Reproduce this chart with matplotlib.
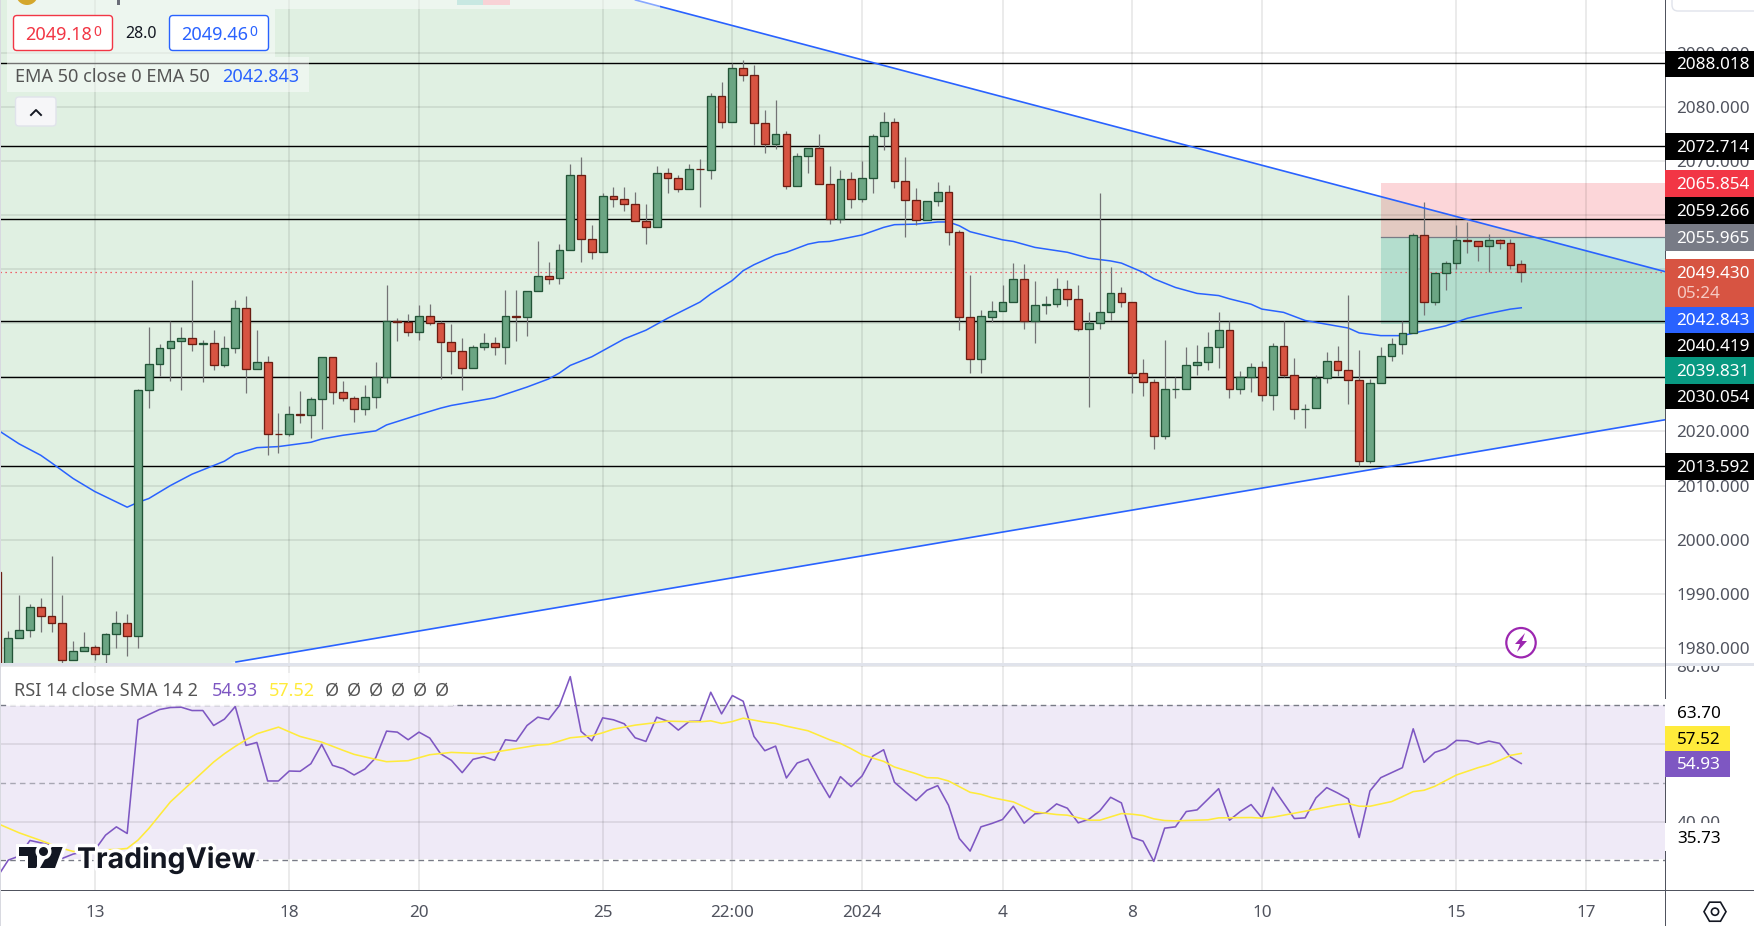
import matplotlib
matplotlib.use("Agg")
import matplotlib.pyplot as plt
import matplotlib.patheffects as pe
from matplotlib.lines import Line2D
from matplotlib.patches import Circle, FancyBboxPatch, Polygon, Rectangle, RegularPolygon
from matplotlib.transforms import Affine2D
import numpy as np

plt.rcParams['font.family'] = ['Noto Sans', 'DejaVu Sans']

W, H = 1754, 926

# candles, one per bar, bar -1 is the half hidden one at the left edge
bars = np.arange(-1, 141)
bar_open = [1994.0,
    1976.6, 1981.8, 1983.3, 1987.6, 1985.9, 1984.6, 1977.8, 1979.4, 1980.2, 1978.9,
    1982.6, 1984.6, 1982.2, 2027.6, 2032.4, 2035.4, 2036.7, 2037.2, 2036.2, 2036.3,
    2032.2, 2035.4, 2042.8, 2031.5, 2032.8, 2019.6, 2019.5, 2023.2, 2023.0, 2026.0,
    2033.7, 2027.3, 2026.2, 2024.1, 2026.3, 2030.0, 2040.4, 2040.2, 2038.3, 2041.3,
    2040.0, 2036.5, 2034.8, 2031.7, 2035.6, 2036.3, 2035.6, 2041.3, 2041.1, 2045.9,
    2048.7, 2048.3, 2053.5, 2067.3, 2055.5, 2053.1, 2063.5, 2062.9, 2062.0, 2058.8,
    2057.7, 2067.7, 2066.8, 2064.7, 2068.5, 2068.3, 2081.9, 2077.1, 2087.1, 2085.8,
    2076.9, 2073.1, 2074.9, 2065.3, 2070.8, 2072.3, 2065.7, 2059.2, 2066.6, 2062.9,
    2066.8, 2074.5, 2077.1, 2066.2, 2062.7, 2059.0, 2062.5, 2064.2, 2056.8, 2041.1,
    2033.4, 2041.2, 2042.2, 2043.9, 2048.1, 2040.4, 2043.4, 2043.5, 2046.3, 2044.4,
    2038.9, 2040.0, 2042.0, 2045.5, 2043.9, 2030.8, 2029.1, 2019.1, 2027.8, 2027.9,
    2032.2, 2032.8, 2035.6, 2038.7, 2027.8, 2030.0, 2031.9, 2026.7, 2035.8, 2030.4,
    2024.1, 2024.3, 2029.8, 2033.0, 2031.3, 2029.5, 2014.5, 2028.9, 2033.9, 2036.1,
    2038.2, 2056.3, 2044.0, 2049.2, 2051.1, 2055.3, 2055.1, 2054.2, 2055.3, 2054.8,
    2050.9]
bar_high = [1994.0,
    1983.2, 1989.8, 1988.2, 1989.3, 1996.9, 1989.8, 1981.2, 1983.0, 1980.5, 1982.8,
    1986.9, 1986.3, 2027.8, 2039.3, 2036.1, 2040.4, 2039.3, 2048.0, 2036.9, 2038.8,
    2037.7, 2044.3, 2045.1, 2038.8, 2034.0, 2023.4, 2024.7, 2027.5, 2026.3, 2033.7,
    2033.7, 2029.4, 2026.6, 2028.6, 2032.9, 2047.1, 2041.0, 2041.7, 2043.4, 2043.6,
    2040.4, 2039.9, 2037.3, 2036.0, 2038.2, 2037.5, 2046.2, 2046.2, 2045.9, 2055.2,
    2051.3, 2054.7, 2069.4, 2070.7, 2058.2, 2064.0, 2065.2, 2065.2, 2064.3, 2062.0,
    2069.1, 2068.7, 2067.4, 2069.4, 2070.3, 2082.5, 2084.6, 2088.0, 2088.6, 2087.7,
    2079.4, 2081.2, 2075.5, 2071.5, 2072.3, 2075.0, 2069.1, 2068.3, 2067.9, 2070.0,
    2075.0, 2079.0, 2077.9, 2070.7, 2065.0, 2062.5, 2066.1, 2065.6, 2057.2, 2048.9,
    2042.5, 2044.1, 2047.1, 2051.1, 2051.0, 2047.8, 2045.1, 2048.4, 2048.0, 2047.1,
    2042.1, 2064.1, 2050.4, 2046.7, 2043.9, 2033.4, 2029.7, 2036.9, 2030.0, 2035.6,
    2036.0, 2038.4, 2042.1, 2040.4, 2031.2, 2032.7, 2033.0, 2036.3, 2040.4, 2033.6,
    2025.1, 2030.5, 2034.7, 2035.8, 2045.2, 2035.1, 2029.7, 2035.6, 2037.3, 2040.4,
    2056.6, 2062.4, 2049.2, 2051.5, 2058.2, 2058.7, 2055.2, 2056.5, 2055.5, 2055.6,
    2051.7]
bar_low = [1974.0,
    1976.0, 1981.8, 1982.1, 1982.9, 1982.9, 1977.3, 1977.8, 1979.4, 1977.8, 1977.2,
    1979.9, 1978.6, 1979.9, 2024.4, 2030.3, 2029.4, 2027.7, 2034.9, 2029.2, 2031.4,
    2031.9, 2034.5, 2027.1, 2031.5, 2015.7, 2016.1, 2019.2, 2021.6, 2018.8, 2020.5,
    2025.1, 2025.7, 2021.8, 2023.1, 2024.4, 2029.0, 2036.7, 2037.7, 2036.9, 2039.7,
    2029.7, 2030.7, 2027.6, 2031.7, 2035.1, 2034.2, 2032.5, 2036.7, 2037.7, 2045.9,
    2047.3, 2047.3, 2053.5, 2051.3, 2051.9, 2053.1, 2061.5, 2060.7, 2058.8, 2054.7,
    2057.7, 2064.1, 2064.3, 2064.7, 2061.5, 2066.7, 2076.1, 2077.1, 2084.8, 2072.9,
    2071.5, 2072.2, 2064.8, 2065.3, 2067.8, 2065.7, 2058.3, 2058.5, 2061.3, 2062.4,
    2064.1, 2072.0, 2065.0, 2056.0, 2058.2, 2059.0, 2061.7, 2054.5, 2038.8, 2030.8,
    2030.8, 2040.2, 2042.2, 2043.9, 2039.0, 2036.4, 2041.7, 2043.0, 2043.2, 2038.6,
    2024.6, 2039.0, 2040.6, 2043.0, 2027.1, 2026.6, 2016.8, 2018.6, 2026.2, 2027.9,
    2030.5, 2031.4, 2031.8, 2026.2, 2027.0, 2027.3, 2025.7, 2024.0, 2030.0, 2022.3,
    2020.7, 2024.3, 2028.9, 2030.3, 2025.1, 2013.6, 2014.1, 2028.9, 2033.0, 2034.3,
    2038.2, 2041.5, 2043.3, 2046.1, 2050.0, 2053.0, 2051.5, 2049.4, 2053.7, 2050.0,
    2047.6]
bar_close = [1975.0,
    1981.8, 1983.3, 1987.6, 1985.9, 1984.6, 1977.8, 1979.4, 1980.2, 1978.9, 1982.6,
    1984.6, 1982.2, 2027.6, 2032.4, 2035.4, 2036.7, 2037.2, 2036.1, 2036.3, 2032.2,
    2035.4, 2042.8, 2031.5, 2032.8, 2019.5, 2019.5, 2023.2, 2023.1, 2026.0, 2033.7,
    2027.3, 2026.2, 2024.1, 2026.3, 2030.0, 2040.4, 2040.2, 2038.3, 2041.3, 2040.0,
    2036.5, 2034.8, 2031.7, 2035.6, 2036.3, 2035.6, 2041.3, 2041.2, 2045.9, 2048.7,
    2048.2, 2053.5, 2067.3, 2055.5, 2053.1, 2063.5, 2062.9, 2062.0, 2058.8, 2057.7,
    2067.7, 2066.8, 2064.7, 2068.4, 2068.4, 2081.9, 2077.1, 2087.1, 2085.8, 2076.9,
    2073.1, 2074.9, 2065.3, 2070.8, 2072.3, 2065.7, 2059.2, 2066.6, 2062.9, 2066.8,
    2074.5, 2077.1, 2066.2, 2062.7, 2059.0, 2062.5, 2064.2, 2056.8, 2041.1, 2033.4,
    2041.3, 2042.2, 2043.9, 2048.1, 2040.4, 2043.3, 2043.5, 2046.3, 2044.4, 2038.9,
    2040.0, 2042.0, 2045.5, 2043.9, 2030.8, 2029.1, 2019.1, 2027.8, 2027.9, 2032.2,
    2032.8, 2035.6, 2038.7, 2027.8, 2030.0, 2031.9, 2026.7, 2035.8, 2030.4, 2024.1,
    2024.2, 2029.8, 2033.0, 2031.3, 2029.5, 2014.5, 2028.9, 2033.9, 2036.1, 2038.2,
    2056.3, 2044.0, 2049.2, 2051.1, 2055.3, 2055.2, 2054.2, 2055.3, 2054.8, 2050.8,
    2049.4]

ema_bars = [-1, 1, 3, 4, 6, 8, 11, 12, 13, 15, 17, 20, 21, 23, 25, 28, 29, 31, 34, 35, 38, 40,
    41, 45, 48, 50, 51, 52, 54, 55, 57, 59, 61, 64, 65, 67, 68, 69, 71, 72, 74, 75, 76, 78, 79, 81,
    82, 84, 86, 87, 88, 89, 91, 92, 93, 95, 97, 98, 100, 102, 103, 105, 106, 108, 110, 112, 113,
    115, 116, 118, 120, 122, 124, 125, 127, 129, 131, 133, 135, 137, 139, 140]
ema_vals = [2020.3, 2017.7, 2015.6, 2014.2, 2011.3, 2008.9, 2006.0, 2006.9, 2007.6, 2010.0, 2012.1,
    2014.5, 2015.8, 2017.0, 2017.2, 2018.0, 2018.6, 2019.3, 2020.1, 2021.2, 2023.1, 2024.3,
    2024.8, 2026.2, 2028.2, 2029.7, 2030.8, 2032.2, 2033.8, 2034.9, 2037.1, 2038.7, 2040.9, 2043.9,
    2045.4, 2047.9, 2049.7, 2050.8, 2052.6, 2053.1, 2054.6, 2055.0, 2055.1, 2055.9, 2056.3, 2057.7,
    2058.2, 2058.3, 2058.7, 2058.7, 2058.0, 2056.9, 2055.9, 2055.4, 2055.1, 2054.0, 2053.4, 2053.1,
    2052.0, 2051.5, 2051.1, 2049.4, 2048.2, 2046.6, 2045.5, 2045.1, 2044.5, 2043.5, 2042.6, 2042.0,
    2040.5, 2039.8, 2039.1, 2038.2, 2037.7, 2037.7, 2038.6, 2039.5, 2040.9, 2041.8, 2042.6, 2042.843]

# RSI, one per bar
rsi_vals = [25.8,
    30.09, 31.11, 35.13, 34.53, 33.93, 30.52, 31.63, 32.22, 32.65, 36.5,
    38.63, 36.93, 66.16, 67.52, 68.81, 69.32, 69.4, 68.55, 68.55, 64.7,
    66.33, 69.58, 59.58, 60.34, 50.43, 50.43, 52.99, 52.91, 54.87, 59.83,
    54.45, 53.59, 51.97, 53.51, 56.41, 63.25, 62.99, 61.03, 62.99, 61.46,
    57.44, 55.73, 52.57, 55.99, 56.67, 55.73, 61.03, 60.69, 64.7, 66.84,
    66.24, 69.83, 77.27, 63.17, 60.77, 66.67, 66.16, 65.13, 61.54, 60.6,
    66.84, 65.81, 63.51, 65.73, 65.81, 73.25, 67.69, 72.4, 70.94, 61.88,
    58.21, 59.4, 51.2, 55.04, 56.07, 50.86, 46.16, 51.54, 48.98, 51.71,
    56.84, 58.46, 50.09, 47.69, 45.39, 48.04, 49.23, 44.19, 35.64, 32.4,
    38.63, 39.49, 40.52, 43.93, 39.58, 41.97, 42.23, 44.53, 43.42, 39.66,
    40.6, 42.74, 46.24, 44.79, 35.9, 34.96, 29.75, 38.29, 38.63, 42.57,
    42.99, 45.73, 48.46, 40.34, 42.57, 44.36, 40.94, 48.81, 44.79, 40.77,
    40.94, 46.07, 48.72, 47.35, 45.81, 35.9, 47.87, 51.28, 52.57, 53.85,
    63.85, 55.22, 57.78, 58.72, 60.86, 60.77, 59.92, 60.69, 60.09, 56.58,
    54.93]

sma_bars = [-1, 1, 3, 5, 6, 8, 10, 11, 12, 13, 14, 15, 17, 19, 20, 21, 22, 23, 25, 27, 29, 31, 32, 34,
    35, 37, 39, 41, 44, 46, 49, 50, 52, 54, 55, 56, 58, 61, 64, 65, 66, 67, 68, 70, 71, 72, 74, 76,
    77, 78, 79, 81, 82, 84, 85, 86, 87, 89, 90, 91, 93, 95, 97, 98, 100, 101, 103, 104, 105, 106,
    107, 108, 109, 111, 112, 115, 116, 117, 119, 121, 123, 124, 125, 126, 128, 130, 131, 132, 134,
    136, 137, 138, 139, 140]
sma_vals = [39.49, 37.1, 35.13, 33.08, 32.31, 32.65, 32.82, 33.08, 35.22, 38.21, 41.63, 45.05, 50.17,
    55.3, 57.44, 59.32, 61.03, 62.57, 64.28, 61.88, 60.43, 58.29, 57.27, 55.99, 55.39, 55.64, 57.18,
    57.78, 57.44, 58.29, 59.66, 59.83, 61.54, 62.05, 62.82, 63.76, 64.79, 65.81, 65.64, 65.9, 65.22,
    65.73, 66.58, 65.56, 65.22, 64.53, 63.34, 61.03, 60.09, 58.72, 57.18, 55.47, 54.02, 52.31, 51.28,
    51.2, 50.43, 47.52, 47.01, 46.16, 45.05, 42.48, 41.8, 41.63, 40.34, 40.34, 42.05, 41.88, 41.54,
    40.69, 40.26, 40.17, 40.26, 40.43, 40.94, 41.03, 40.86, 41.11, 42.14, 43.17, 44.28, 44.62, 43.93,
    43.93, 45.13, 47.69, 48.04, 49.06, 51.97, 53.85, 54.62, 55.73, 57.01, 57.52]

# chart objects
level_lines = [2088.018, 2072.714, 2059.266, 2040.419, 2030.054, 2013.592]
trend_upper_bars = [58.04, 153.3]
trend_upper_prices = [2099.71, 2049.53]
trend_lower_bars = [21.07, 153.3]
trend_lower_prices = [1977.4, 2022.15]
last_price = 2049.43
position_start = 127
position_stop = 2065.854
position_entry = 2055.965
position_target = 2039.831

price_ticks = [1980, 1990, 2000, 2010, 2020, 2030, 2040, 2050, 2060, 2070, 2080, 2090]
rsi_ticks = [80, 60, 40]
time_tick_bars = [8, 26, 38, 55, 67, 79, 92, 104, 116, 134, 146]
time_tick_labels = ['13', '18', '20', '25', '22:00', '2024', '4', '8', '10', '15', '17']

# (text, top, bottom, background, text colour)
price_boxes = [
    ('2088.018', 50.5, 77, 'black', 'white'),
    ('2072.714', 133, 159.5, 'black', 'white'),
    ('2065.854', 170, 197.3, '#f23645', 'white'),
    ('2059.266', 197.3, 224, 'black', 'white'),
    ('2055.965', 224, 250.7, '#787b86', 'white'),
    ('2042.843', 306.7, 333, '#2962ff', 'white'),
    ('2040.419', 333, 357.3, 'black', 'white'),
    ('2039.831', 357.3, 384, '#089981', 'white'),
    ('2030.054', 384, 408.7, 'black', 'white'),
    ('2013.592', 453.3, 480, 'black', 'white'),
]

GREEN, GREEN_EDGE = '#6ba583', '#225437'
RED, RED_EDGE = '#d75442', '#6b1d12'
WICK = '#737375'
AXIS_TEXT = '#50535e'

fig = plt.figure(figsize=(W / 100, H / 100), dpi=100, facecolor='white')
px = Affine2D().scale(1, -1).translate(0, H)  # figure pixels, y from the top

x_left, x_right = -0.768, 153.3


def pane(top, bottom):
    return fig.add_axes([0, 1 - bottom / H, 1665 / W, (bottom - top) / H])


ax = pane(0, 662.7)
ax_rsi = pane(666, 890)

# price pane
ax.set_xlim(x_left, x_right)
ax.set_ylim(1977.27, 2099.71)
ax.set_axisbelow(True)

up_slope = (trend_upper_prices[1] - trend_upper_prices[0]) / (trend_upper_bars[1] - trend_upper_bars[0])
lo_slope = (trend_lower_prices[1] - trend_lower_prices[0]) / (trend_lower_bars[1] - trend_lower_bars[0])
up_left = trend_upper_prices[1] + up_slope * (x_left - trend_upper_bars[1])
lo_left = trend_lower_prices[1] + lo_slope * (x_left - trend_lower_bars[1])
ax.add_patch(Polygon([(x_left, up_left), (trend_upper_bars[1], trend_upper_prices[1]),
                      (trend_lower_bars[1], trend_lower_prices[1]), (x_left, lo_left)],
                     facecolor='#e0f0e2', edgecolor='none', zorder=0.1))
ax.add_patch(Rectangle((position_start, position_entry), x_right - position_start,
                       position_stop - position_entry, facecolor='#f23645', alpha=0.2, zorder=0.2))
ax.add_patch(Rectangle((position_start, position_target), x_right - position_start,
                       position_entry - position_target, facecolor='#089981', alpha=0.2, zorder=0.2))
ax.plot([position_start, x_right], [position_entry, position_entry], color='#787b86', lw=0.9, zorder=0.3)

ax.set_xticks(time_tick_bars)
ax.set_yticks(price_ticks)
ax.grid(True, color='black', alpha=0.1, lw=1.1)
ax.tick_params(length=0, labelbottom=False, left=False, labelleft=False, right=False, labelright=True,
               labelsize=12.3, labelcolor=AXIS_TEXT, pad=8.2)
ax.set_yticklabels(['%.3f' % t for t in price_ticks])
for s in ax.spines.values():
    s.set_visible(False)

for level in level_lines:
    ax.axhline(level, color='black', lw=1.0, zorder=1)
ax.axhline(last_price, color='#f23645', lw=0.9, ls=(0, (1, 3)), zorder=1)
ax.plot(ema_bars, ema_vals, color='#2962ff', lw=1.1, zorder=1.5)

o = np.array(bar_open)
c = np.array(bar_close)
rising = c >= o
ax.vlines(bars, bar_low, bar_high, color=WICK, lw=0.9, zorder=2)
ax.bar(bars[rising], (c - o)[rising], bottom=o[rising], width=0.72, color=GREEN,
       edgecolor=GREEN_EDGE, lw=0.95, zorder=3)
ax.bar(bars[~rising], (c - o)[~rising], bottom=o[~rising], width=0.72, color=RED,
       edgecolor=RED_EDGE, lw=0.95, zorder=3)

ax.plot(trend_upper_bars, trend_upper_prices, color='#2962ff', lw=1.2, zorder=4)
ax.plot(trend_lower_bars, trend_lower_prices, color='#2962ff', lw=1.2, zorder=4)

# RSI pane
ax_rsi.set_xlim(x_left, x_right)
ax_rsi.set_ylim(22.39, 79.83)
ax_rsi.set_axisbelow(True)
ax_rsi.axhspan(30.3, 70, facecolor='#7e57c2', alpha=0.12, edgecolor='none', zorder=0.1)
ax_rsi.set_yticks(rsi_ticks)
ax_rsi.set_yticklabels(['%.2f' % t for t in rsi_ticks])
ax_rsi.set_xticks(time_tick_bars)
ax_rsi.set_xticklabels(time_tick_labels)
ax_rsi.get_xticklabels()[time_tick_labels.index('2024')].set_fontweight('bold')
ax_rsi.grid(True, color='black', alpha=0.1, lw=1.1)
ax_rsi.tick_params(length=0, left=False, labelleft=False, right=False, labelright=True,
                   labelsize=12.3, labelcolor=AXIS_TEXT)
ax_rsi.tick_params(axis='y', pad=8.2)
ax_rsi.tick_params(axis='x', pad=10.5)
for s in ax_rsi.spines.values():
    s.set_visible(False)
ax_rsi.axhline(70, color='#787b86', lw=1.0, ls=(0, (4, 3)), zorder=1)
ax_rsi.axhline(50, color='#787b86', lw=1.0, ls=(0, (4, 3)), alpha=0.6, zorder=1)
ax_rsi.axhline(30, color='#787b86', lw=1.0, ls=(0, (4, 3)), zorder=1)
ax_rsi.plot(bars, rsi_vals, color='#7e57c2', lw=1.15, zorder=2)
ax_rsi.plot(sma_bars, sma_vals, color='#ffeb3b', lw=1.15, zorder=3)


# everything below sits on top of the panes, in figure pixels
def box(x0, y0, x1, y1, color, alpha=None, z=5):
    fig.add_artist(Rectangle((x0, y0), x1 - x0, y1 - y0, facecolor=color, edgecolor='none', alpha=alpha,
                             transform=px, zorder=z))


def label(x, y, s, z=7, **kw):
    kw.setdefault('va', 'center')
    return fig.text(x, y + 1.5, s, transform=px, zorder=z, **kw)


def round_box(x0, y0, x1, y1, face, edge, r=3.5):
    fig.add_artist(FancyBboxPatch((x0, y0), x1 - x0, y1 - y0, boxstyle='round,pad=0,rounding_size=%g' % r,
                                  facecolor=face, edgecolor=edge, lw=1.0, transform=px, zorder=6))


# pane separator and axis lines
box(1666, 654, W, 663, 'white', z=4.5)
box(0, 663, W, 666, '#e0e3eb', z=4.5)
box(0, 889.5, W, 891, AXIS_TEXT, z=4.5)
box(1664.5, 0, 1666, H, AXIS_TEXT, z=4.6)
box(0, 0, 1, H, '#d8d9e0', z=4.6)

# price axis boxes
for text, top, bottom, bg, fg in price_boxes:
    box(1665, top, W, bottom, bg)
    label(1676.5, (top + bottom) / 2, text, color=fg, fontsize=12.3, fontweight='medium')
box(1665, 259, W, 306.7, RED)
label(1676.5, 272.5, '%.3f' % last_price, color='white', fontsize=12.3, fontweight='medium')
label(1676.5, 293, '05:24', color='#f5c9c2', fontsize=12.3)

# RSI axis boxes
box(1665, 699, W, 725.7, 'white')
box(1665, 725.7, 1730, 750.7, '#ffeb3b')
box(1665, 750.7, 1730, 776.7, '#7e57c2')
box(1665, 823, W, 851, 'white')
label(1699, 712.5, '63.70', color='black', fontsize=12.3, ha='center')
label(1699, 738, '57.52', color='black', fontsize=12.3, ha='center')
label(1699, 763.5, '54.93', color='white', fontsize=12.3, ha='center')
label(1699, 837.5, '35.73', color='black', fontsize=12.3, ha='center')

# legends top left
box(7, 0, 660, 9, 'white', alpha=0.45)
box(7, 9, 275, 57, 'white', alpha=0.45)
box(7, 57, 309, 92, 'white', alpha=0.45)
fig.add_artist(Circle((27, -6), 11, facecolor='#d4a72c', edgecolor='none', transform=px, zorder=6))
box(117, 0, 119.5, 5, '#6a6d78', z=6)
box(457, 0, 483, 5, '#c8e8e2', z=6)
box(483, 0, 510, 5, '#f8d2d6', z=6)
round_box(13.5, 15.5, 112.5, 50.5, 'white', '#f23645')
label(25, 33, '2049.18', color='#f23645', fontsize=13)
label(93, 30.5, '0', color='#f23645', fontsize=10)
label(141, 33, '28.0', color='#131722', fontsize=11.5, ha='center')
round_box(169.5, 15.5, 268.5, 50.5, 'white', '#2962ff')
label(181, 33, '2049.46', color='#2962ff', fontsize=13)
label(249, 30.5, '0', color='#2962ff', fontsize=10)
label(15, 75, 'EMA 50 close 0 EMA 50', color='#555555', fontsize=13)
label(222, 75, '2042.843', color='#2962ff', fontsize=13)
round_box(15.5, 97, 56, 126, '#f6f6f8', '#e0e3eb')
fig.add_artist(Line2D([31, 36, 41], [115, 110, 115], color='#131722', lw=1.4, transform=px, zorder=7))

# RSI legend
box(7, 673, 453, 706, 'white', alpha=0.85)
label(14, 689, 'RSI 14 close SMA 14 2', color='#555555', fontsize=13)
label(212, 689, '54.93', color='#7e57c2', fontsize=13)
label(269, 689, '57.52', color='#ffeb3b', fontsize=13)
for x_null in [332, 354, 376, 398, 420, 442]:
    label(x_null, 689, '\u00d8', color='#555555', fontsize=13, ha='center')

# lightning badge
fig.add_artist(Circle((1521, 642.7), 14.7, facecolor='white', edgecolor='#9c27b0', lw=1.6, transform=px, zorder=6))
fig.add_artist(Polygon([(1525, 633), (1515, 644), (1520, 644), (1517, 652), (1527, 641), (1522, 641)],
                       facecolor='#9c27b0', edgecolor='none', transform=px, zorder=7))

# top right button and settings icon
fig.add_artist(FancyBboxPatch((1672, -12), 100, 23, boxstyle='round,pad=0,rounding_size=6', facecolor='white',
                              edgecolor='#e0e3eb', lw=1.0, transform=px, zorder=6))
fig.add_artist(RegularPolygon((1715, 911.7), 6, radius=11, orientation=np.pi / 6, facecolor='white',
                              edgecolor='#131722', lw=1.2, transform=px, zorder=6))
fig.add_artist(Circle((1715, 911.7), 3.6, facecolor='white', edgecolor='#131722', lw=1.2, transform=px, zorder=7))

# watermark
halo = [pe.withStroke(linewidth=5, foreground='white')]
logo_parts = [
    [(19, 847), (36.7, 847), (36.7, 868), (28.3, 868), (28.3, 856), (19, 856)],
    [(51.7, 847), (62.7, 847), (55, 868), (40, 868)],
]
for part in logo_parts:
    p = Polygon(part, facecolor='#131722', edgecolor='none', transform=px, zorder=8)
    p.set_path_effects([pe.withStroke(linewidth=5, foreground='white')])
    fig.add_artist(p)
logo_dot = Circle((43.5, 851.5), 4.5, facecolor='#131722', edgecolor='none', transform=px, zorder=8)
logo_dot.set_path_effects([pe.withStroke(linewidth=5, foreground='white')])
fig.add_artist(logo_dot)
mark = label(77, 866.5, 'TradingView', color='#131722', fontsize=20.5, fontfamily=['Inter', 'DejaVu Sans'],
             fontweight='bold', va='baseline', z=8)
mark.set_path_effects(halo)

fig.savefig('out.png', dpi=100)
